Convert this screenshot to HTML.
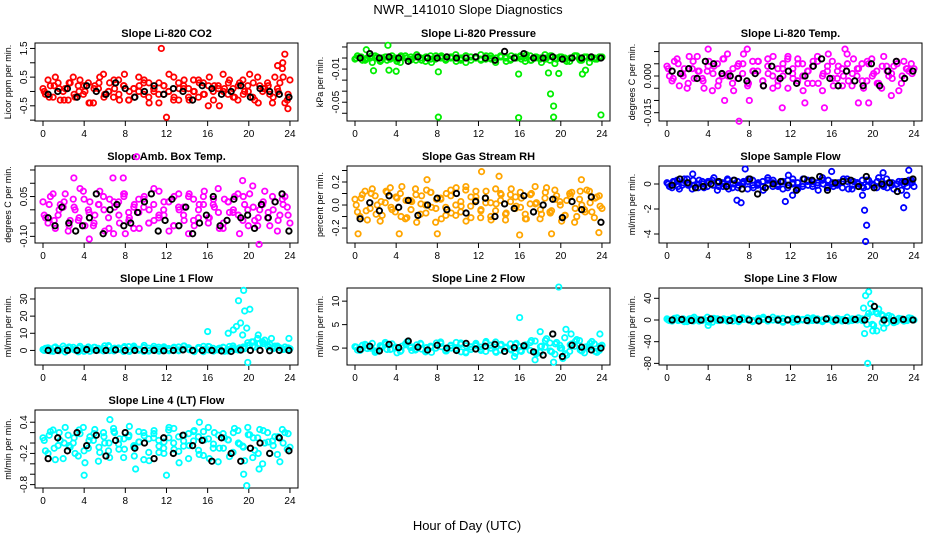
<!DOCTYPE html>
<html><head><meta charset="utf-8"><title>NWR_141010 Slope Diagnostics</title>
<style>
html,body{margin:0;padding:0;background:#fff;}
svg{display:block;font-family:"Liberation Sans",sans-serif;}
</style></head>
<body>
<svg id="chart" width="936" height="540" viewBox="0 0 936 540">
<rect width="936" height="540" fill="#fff"/>
<text x="468" y="14" font-size="13" text-anchor="middle">NWR_141010  Slope Diagnostics</text>
<text x="467" y="530" font-size="13" text-anchor="middle">Hour of Day (UTC)</text>
</svg>
<script>
const hourTicks = [0,4,8,12,16,20,24];

// Panel 1: Li-820 CO2
const co2A = [0.1,0.4,-0.2,0.3,0.0,-0.3,0.5,0.2,-0.1,0.3,-0.4,0.1,0.6,0.0,-0.2,0.4,0.2,-0.3,0.1,0.5,-0.1,0.3,0.0,-0.4,0.2,0.6,-0.2,0.1,0.4,-0.3,0.0,0.3,-0.1,0.5,0.2,-0.5,0.1,0.4,-0.2,0.3,0.0,0.6,-0.3,0.2,0.1,-0.1,0.5,0.3,-0.4,0.4];
const co2B = [-0.1,0.2,0.5,-0.3,0.1,0.3,-0.2,0.4,0.0,-0.4,0.2,0.5,-0.1,0.3,0.1,-0.3,0.6,0.0,-0.2,0.2,0.4,-0.4,0.1,0.3,-0.1,0.0,0.5,-0.3,0.2,0.1,0.4,-0.2,0.3,-0.5,0.0,0.2,0.6,-0.1,0.1,-0.3,0.4,0.2,-0.2,0.5,0.0,0.3,-0.4,0.1,0.8,-0.3];
const co2C = [0.0,-0.2,0.2,0.1,-0.3,0.3,-0.1,0.0,0.2,-0.4,0.1,0.3,-0.2,0.0,0.4,-0.1,0.2,-0.3,0.1,0.0,0.3,-0.2,0.1,-0.1,0.2,0.0,-0.3,0.3,0.1,-0.2,0.0,0.4,-0.1,0.2,-0.3,0.1,0.0,0.3,-0.2,0.2,-0.1,0.0,0.3,-0.4,0.1,0.2,-0.2,0.0,0.5,-0.1];
const co2Out = [[11.5,1.5],[23.5,1.3],[23.3,1.0],[12.0,-0.9],[22.8,0.9],[23.8,-0.6]];
const co2Black = [-0.1,0.0,0.1,-0.2,0.2,0.0,-0.1,0.3,0.1,-0.2,0.0,0.2,-0.1,0.1,0.0,-0.3,0.2,0.1,-0.1,0.0,0.2,-0.2,0.1,0.0,-0.1,-0.2];
const co2Ticks = [-1.0,-0.5,0.0,0.5,1.0,1.5];
const co2Labels = ["","-0.5","","0.5","","1.5"];

// Panel 2: Li-820 Pressure
const presA = [-0.001,0.001,-0.002,0.000,0.002,-0.003,0.001,-0.001,0.000,-0.004,0.002,-0.002,0.001,0.000,-0.003,0.002,-0.001,0.001,-0.002,0.000,0.003,-0.001,-0.004,0.001,0.000,-0.002,0.002,-0.001,0.000,0.001,-0.003,0.002,0.000,-0.001,0.003,-0.002,0.001,-0.004,0.000,0.002,-0.001,0.001,-0.003,0.000,0.002,-0.002,0.001,0.000,-0.001,0.001];
const presB = [0.002,-0.002,0.000,-0.004,0.001,0.000,-0.002,0.002,-0.003,0.001,0.000,-0.001,0.003,-0.002,0.001,-0.004,0.000,0.002,-0.001,0.001,-0.003,0.000,0.002,-0.002,0.001,0.003,-0.001,0.000,-0.004,0.002,0.001,-0.002,0.000,0.001,-0.003,0.002,0.000,-0.001,0.003,-0.002,-0.005,0.001,0.000,-0.003,0.002,-0.001,0.001,-0.004,0.000,0.001];
const presC = [0.000,0.001,-0.001,0.002,0.000,-0.002,0.001,0.000,-0.001,0.002,0.000,0.001,-0.002,0.000,0.001,-0.001,0.002,0.000,-0.001,0.001,0.000,-0.002,0.002,0.001,0.000,-0.001,0.000,0.002,-0.002,0.001,0.000,-0.001,0.001,0.002,0.000,-0.002,0.001,0.000,-0.001,0.002,0.000,0.001,-0.001,0.000,0.002,-0.002,0.001,0.000,-0.001,0.001];
const presOut = [[1.8,-0.0115],[3.3,-0.011],[4.0,-0.012],[8.1,-0.0125],[8.1,-0.0535],[15.9,-0.0145],[15.9,-0.054],[18.8,-0.0135],[19.0,-0.0325],[19.3,-0.0435],[19.3,-0.0535],[19.8,-0.014],[22.1,-0.0145],[22.4,-0.011],[23.9,-0.0515],[3.2,0.0115],[1.1,0.0075]];
const presBlack = [0.000,0.004,0.000,0.001,0.000,-0.003,0.001,0.000,0.000,0.001,0.000,0.000,0.001,0.000,-0.002,0.006,0.000,0.004,0.000,0.000,0.001,-0.001,0.000,0.000,0.001,0.000];
const presTicks = [0.01,0.0,-0.01,-0.02,-0.03,-0.04,-0.05];
const presLabels = ["","","-0.01","","","-0.05",""];

// Panel 3: Li-820 Temp
const ltA = [0.004,-0.002,0.007,0.001,-0.005,0.003,0.008,-0.001,0.002,-0.006,0.005,0.000,0.009,-0.003,0.004,0.001,-0.004,0.006,0.002,-0.002,0.007,-0.005,0.003,0.000,0.008,-0.001,0.005,-0.006,0.002,0.006,-0.003,0.001,0.009,-0.004,0.004,0.000,-0.002,0.007,0.003,-0.005,0.005,0.001,-0.003,0.008,0.000,0.004,-0.006,0.006,0.002,0.003];
const ltB = [0.000,0.006,-0.004,0.003,0.008,-0.001,0.002,-0.005,0.006,0.004,-0.002,0.007,0.001,-0.006,0.005,0.009,-0.003,0.002,0.006,-0.004,0.001,0.008,-0.002,0.005,-0.005,0.003,0.007,0.000,-0.003,0.004,0.008,-0.006,0.002,0.006,-0.001,0.003,0.009,-0.004,0.000,0.005,-0.002,0.007,0.002,-0.005,0.004,0.001,0.006,-0.003,0.003,0.005];
const ltC = [0.003,-0.001,0.005,0.000,-0.003,0.006,0.002,-0.002,0.004,0.001,-0.004,0.007,0.000,0.003,-0.001,0.005,-0.003,0.002,0.006,-0.002,0.004,0.000,-0.004,0.003,0.007,0.001,-0.002,0.005,0.002,-0.003,0.006,0.000,0.004,-0.001,0.002,-0.004,0.005,0.001,0.003,-0.002,0.006,0.000,-0.003,0.004,0.002,-0.001,0.005,0.000,0.003,0.001];
const ltOut = [[4.0,0.011],[7.0,-0.0185],[7.8,0.011],[5.6,-0.010],[8.0,-0.010],[11.2,-0.013],[13.4,-0.011],[15.3,-0.013],[17.3,0.011],[19.6,-0.011],[18.6,-0.011],[21.8,-0.008]];
const ltBlack = [0.002,0.001,0.003,-0.001,0.006,0.005,0.001,0.000,-0.001,-0.002,0.001,-0.004,0.004,-0.001,0.002,-0.003,0.000,0.004,0.007,-0.001,-0.004,0.002,-0.002,-0.004,0.005,-0.004,0.002,0.006,-0.001,0.002];
const ltTicks = [0.010,0.005,0.000,-0.005,-0.010,-0.015];
const ltLabels = ["","","0.000","","","-0.015"];

// Panel 4: Amb Box Temp
const abA = [0.03,-0.05,0.06,-0.02,0.01,-0.08,0.04,-0.04,0.07,0.00,-0.06,0.02,0.05,-0.03,-0.09,0.03,0.06,-0.01,-0.07,0.04,0.01,-0.05,0.08,-0.02,0.03,-0.08,0.05,0.00,-0.04,0.06,-0.06,0.02,0.07,-0.03,0.01,-0.07,0.04,-0.01,0.05,-0.09,0.02,0.06,-0.04,0.00,0.07,-0.06,0.03,-0.02,0.05,-0.05];
const abB = [-0.03,0.05,-0.07,0.02,0.06,-0.04,0.00,0.08,-0.06,0.03,-0.02,0.07,-0.08,0.04,0.01,-0.05,0.06,-0.03,0.02,-0.07,0.05,0.00,-0.04,0.07,-0.02,0.03,-0.06,0.06,0.01,-0.09,0.04,-0.03,0.05,-0.05,0.02,0.08,-0.07,0.03,-0.01,0.06,-0.04,0.00,0.09,-0.06,0.02,-0.03,0.05,-0.08,0.04,0.01];
const abC = [-0.02,0.02,-0.04,0.00,0.03,-0.06,0.01,-0.03,0.04,-0.01,-0.05,0.02,0.00,-0.07,0.03,-0.02,0.05,-0.04,0.01,-0.01,0.04,-0.05,0.02,-0.03,0.00,0.03,-0.06,0.01,-0.02,0.05,-0.04,0.00,0.02,-0.03,0.04,-0.01,-0.05,0.03,0.00,-0.02,0.05,-0.06,0.01,-0.03,0.03,-0.01,0.00,-0.04,0.02,-0.02];
const abOut = [[9.1,0.2],[21.0,-0.13],[3.0,0.12],[6.8,0.12],[19.4,0.11],[7.8,0.12],[4.5,-0.11],[8.0,-0.09]];
const abBlack = [-0.03,-0.06,0.01,-0.05,-0.08,-0.06,-0.03,0.06,-0.09,0.00,0.02,-0.06,-0.05,-0.01,0.03,0.06,-0.08,-0.04,0.04,-0.06,0.01,-0.09,-0.05,-0.02,0.05,-0.06,-0.04,0.04,-0.03,-0.02,-0.07,0.02,-0.03,0.03,0.06,-0.08];
const abTicks = [0.15,0.10,0.05,0.00,-0.05,-0.10];
const abLabels = ["","","0.05","","","-0.10"];

// Panel 5: Gas Stream RH
const rhA = [0.05,-0.10,0.12,-0.03,0.08,-0.14,0.02,0.15,-0.06,0.10,-0.12,0.04,0.14,-0.08,0.00,0.11,-0.15,0.06,-0.02,0.13,-0.09,0.03,0.16,-0.11,0.07,-0.04,0.12,-0.13,0.01,0.09,-0.07,0.14,-0.01,0.06,-0.12,0.10,0.02,-0.08,0.15,-0.05,0.08,-0.14,0.04,0.11,-0.10,0.00,0.13,-0.06,0.07,-0.03];
const rhB = [-0.06,0.09,-0.13,0.14,0.00,-0.09,0.11,-0.04,0.06,0.16,-0.11,0.03,-0.15,0.08,0.13,-0.02,0.05,-0.12,0.10,-0.07,0.15,-0.01,-0.14,0.07,0.12,-0.05,0.02,-0.10,0.14,0.04,-0.13,0.09,-0.03,0.11,-0.08,0.01,0.16,-0.12,0.06,-0.06,0.13,0.03,-0.09,0.10,-0.15,0.05,-0.04,0.12,-0.11,0.08];
const rhC = [0.00,0.06,-0.05,0.10,-0.08,0.03,0.12,-0.02,0.07,-0.10,0.04,-0.04,0.09,0.01,-0.07,0.11,-0.03,0.05,-0.09,0.08,0.00,-0.06,0.13,-0.01,0.04,-0.11,0.06,0.02,-0.05,0.10,-0.08,0.03,0.07,-0.02,-0.12,0.09,0.01,-0.04,0.11,-0.07,0.05,0.00,-0.09,0.08,-0.03,0.12,-0.06,0.02,0.06,-0.01];
const rhOut = [[0.3,-0.25],[4.3,-0.25],[8.0,-0.25],[12.3,0.29],[16.0,-0.26],[19.1,-0.25],[22.0,0.22],[14.0,0.25],[7.0,0.22],[23.7,-0.24]];
const rhBlack = [-0.12,0.02,-0.05,0.08,-0.02,0.04,-0.09,0.00,0.06,-0.04,0.10,-0.07,0.03,0.06,-0.10,0.01,-0.03,0.08,-0.06,0.00,0.05,-0.11,0.03,-0.04,0.07,-0.15];
const rhTicks = [0.3,0.2,0.1,0.0,-0.1,-0.2];
const rhLabels = ["","0.2","","0.0","","-0.2"];

// Panel 6: Sample Flow
const sfA = [0.1,-0.3,0.3,-0.1,0.4,-0.4,0.0,0.2,-0.2,0.3,-0.5,0.1,0.4,-0.3,0.2,0.0,-0.4,0.3,-0.1,0.2,0.5,-0.2,0.0,-0.4,0.3,0.1,-0.3,0.4,-0.1,0.2,-0.5,0.0,0.3,-0.2,0.1,0.4,-0.4,0.2,0.0,-0.3,0.3,-0.1,0.5,-0.2,0.1,-0.4,0.2,0.0,0.3,-0.2];
const sfB = [-0.2,0.2,-0.4,0.4,0.0,-0.1,0.3,-0.3,0.1,0.5,-0.2,0.0,-0.4,0.3,-0.1,0.2,0.4,-0.3,0.1,-0.5,0.0,0.3,-0.2,0.2,-0.1,0.4,-0.4,0.0,0.3,-0.2,0.1,0.5,-0.3,0.0,-0.1,0.2,0.4,-0.4,0.1,-0.2,0.3,0.0,-0.3,0.2,0.4,-0.1,0.0,-0.5,0.1,0.3];
const sfC = [0.0,0.2,-0.2,0.1,-0.1,0.3,-0.3,0.0,0.2,-0.1,0.1,-0.2,0.3,0.0,-0.3,0.1,0.2,-0.1,0.0,-0.2,0.3,0.1,-0.1,0.2,-0.3,0.0,0.1,-0.2,0.2,0.0,-0.1,0.3,-0.2,0.1,0.0,-0.3,0.2,-0.1,0.1,0.3,-0.2,0.0,0.2,-0.1,-0.3,0.1,0.0,0.2,-0.2,0.1];
const sfOut = [[2.5,0.8],[6.8,-1.3],[7.2,-1.5],[7.6,1.2],[11.5,-1.4],[11.8,0.7],[16.0,1.0],[19.2,-2.1],[19.4,-3.3],[19.3,-4.6],[23.0,-1.9],[23.5,1.1],[21.0,0.9],[23.3,-0.9],[12.2,-0.9],[19.0,-0.9]];
const sfBlack = [-0.1,0.4,0.1,-0.3,-0.2,0.0,0.2,-0.2,0.3,-0.4,0.4,-0.8,-0.3,0.0,0.2,-0.1,-0.5,0.4,0.3,0.6,-0.5,0.1,0.2,0.3,-0.2,0.6,-0.3,0.0,0.1,-0.6,0.2,0.4];
const sfTicks = [0,-2,-4];
const sfLabels = ["0","-2","-4"];

// Panel 7: Line 1 Flow
const l1A = [0.5,1.5,-0.5,1.0,2.5,0.0,1.8,-0.8,0.8,2.0,0.2,1.2,-0.3,2.8,0.6,1.4,-0.6,2.2,0.9,0.1,1.7,-0.4,2.4,0.7,1.1,-0.2,1.9,0.3,2.6,0.4,-0.7,1.6,0.8,2.1,0.0,1.3,-0.5,2.3,0.5,1.5,1.0,3.0,2.0,4.0,6.0,3.5,2.5,1.5,2.0,1.0];
const l1B = [1.2,-0.3,2.0,0.6,-0.9,1.6,0.2,2.4,1.0,-0.5,1.8,0.4,2.7,-0.1,1.3,0.8,2.2,-0.6,1.5,0.5,2.9,0.0,1.1,-0.4,2.1,0.7,1.4,-0.2,2.5,0.9,0.1,1.7,-0.7,2.3,1.2,0.3,1.9,-0.3,2.6,0.6,1.5,4.5,2.5,7.0,5.0,3.0,1.5,2.5,1.0,0.5];
const l1C = [0.0,0.8,1.6,-0.2,1.0,2.0,0.4,1.4,-0.5,0.9,1.8,0.2,1.2,2.2,-0.3,0.6,1.5,0.1,2.5,0.7,-0.6,1.3,0.3,1.9,0.5,1.1,-0.1,2.0,0.8,1.6,0.0,1.2,2.4,0.3,-0.4,1.0,1.7,0.5,1.4,0.2,2.0,3.0,5.0,9.0,4.0,2.0,1.0,2.0,0.5,1.5];
const l1Out = [[16.0,11],[18.0,10],[18.5,12],[18.8,14],[19.0,29],[19.2,16],[19.5,35],[19.6,23],[19.8,13],[20.1,24],[19.4,9],[19.9,-7],[20.3,5],[22.2,7],[23.9,7]];
const l1Black = [0,0,0,0,0.5,0,0,0.3,0,0,0,0,-0.2,0,0.3,0,0,0,-0.3,-0.6,0.2,0,0,-0.2,0,0];
const l1Ticks = [0,10,20,30];
const l1Labels = ["0","10","20","30"];

// Panel 8: Line 2 Flow
const l2A = [0.3,-0.5,0.8,0.0,-0.9,0.5,1.2,-0.3,0.2,-0.7,0.9,0.1,-0.4,1.0,-0.8,0.4,0.0,1.3,-0.6,0.6,-0.2,1.1,-1.0,0.3,0.7,-0.5,1.4,0.0,-0.9,0.8,0.2,-0.4,1.0,-0.7,0.5,1.6,-1.2,0.4,2.0,-0.8,1.2,0.0,-1.5,0.9,1.8,-0.6,0.3,1.4,-0.9,0.6];
const l2B = [-0.4,0.6,-0.1,1.0,-0.7,0.2,-0.3,0.9,-1.0,0.4,1.3,-0.5,0.7,-0.2,0.1,-0.9,1.1,0.3,-0.6,0.0,1.2,-0.8,0.5,-0.3,1.0,0.2,-0.7,0.6,1.3,-0.4,0.0,0.9,-1.1,0.3,0.7,-0.5,1.5,-0.9,0.2,1.1,-1.3,0.6,2.2,-0.7,0.4,1.6,-1.0,0.2,0.9,-0.5];
const l2C = [0.2,-0.3,0.6,0.0,-0.6,0.4,0.9,-0.2,0.1,-0.5,0.7,0.3,-0.2,0.8,-0.6,0.2,0.0,1.0,-0.4,0.5,-0.1,0.8,-0.8,0.2,0.5,-0.3,1.1,0.0,-0.7,0.6,0.1,-0.2,0.8,-0.5,0.3,1.2,-0.9,0.3,1.6,-0.6,0.9,0.0,-1.2,0.7,1.4,-0.4,0.2,1.0,-0.7,0.4];
const l2Out = [[19.8,13],[16.0,6.5],[19.3,-3],[17.5,-2.5],[20.5,4],[21.0,3],[23.8,3],[18.0,3.5],[20.2,-2.2],[15.5,-1.8]];
const l2Black = [-0.3,0.4,-0.6,0.8,0.1,1.5,0.2,-0.4,0.6,0.0,-0.5,1.0,-0.2,0.4,0.8,-0.7,0.1,0.5,-0.8,-1.5,3.0,-1.8,0.6,0.2,-0.4,0.0];
const l2Ticks = [0,5,10];
const l2Labels = ["0","5","10"];

// Panel 9: Line 3 Flow
const l3A = [2,-2,4,0,-3,3,1,-1,5,-4,2,0,-2,3,-1,4,1,-3,0,2,-2,5,-1,3,0,-4,2,1,-2,4,0,-1,3,-3,2,1,-2,0,4,-1,12,-10,20,-15,8,-5,3,-2,4,0];
const l3B = [-1,3,0,-3,2,5,-2,1,-4,3,0,2,-1,4,-3,1,0,-2,3,5,-1,0,2,-4,1,3,-2,0,4,-1,2,-3,1,0,3,-2,5,-1,0,2,-8,15,-20,10,-6,6,-3,2,0,3];
const l3C = [0,1,-1,2,0,-2,1,0,-1,2,-1,0,1,-2,0,1,2,-1,0,1,-1,0,2,-2,1,0,-1,1,0,2,-1,0,1,-2,0,1,-1,2,0,-1,6,-8,12,-5,4,-2,1,0,-1,1];
const l3Out = [[19.3,45],[19.5,-80],[19.6,52],[19.8,30],[19.2,-25],[20.0,-20],[20.3,15],[19.1,22],[4.0,-10],[21.0,8]];
const l3Black = [0,1,-1,0,2,0,-1,1,0,-2,1,0,0,1,-1,0,2,0,-1,1,0,25,0,-1,1,0];
const l3Ticks = [40,0,-40,-80];
const l3Labels = ["40","0","-40","-80"];

// Panel 10: Line 4 (LT) Flow
const l4A = [0.1,-0.2,0.25,-0.05,-0.3,0.15,0.0,-0.25,0.3,-0.1,0.05,-0.35,0.2,-0.15,0.28,-0.02,-0.28,0.12,-0.08,0.22,-0.32,0.08,0.18,-0.18,0.02,0.3,-0.12,-0.38,0.15,-0.05,0.24,-0.22,0.06,-0.3,0.2,-0.1,0.1,-0.26,0.28,-0.02,-0.34,0.16,-0.14,0.26,0.0,-0.2,0.12,-0.36,0.2,-0.08];
const l4B = [-0.15,0.22,-0.32,0.05,0.3,-0.08,-0.2,0.18,-0.38,0.12,0.26,-0.18,0.0,-0.28,0.2,0.08,-0.12,0.32,-0.25,0.02,0.14,-0.34,0.24,-0.06,-0.2,0.1,0.28,-0.16,0.04,-0.3,0.22,0.12,-0.24,0.3,-0.1,-0.36,0.18,0.06,-0.18,0.24,-0.06,0.3,-0.28,0.1,-0.4,0.2,0.04,-0.22,0.26,-0.12];
const l4C = [0.05,0.15,-0.1,0.2,0.0,-0.05,0.1,0.25,-0.15,0.05,0.18,-0.08,0.12,0.0,0.22,-0.12,0.08,0.15,-0.05,0.02,0.2,-0.18,0.1,0.05,-0.1,0.25,0.0,0.12,-0.06,0.18,0.04,-0.14,0.22,0.08,-0.02,0.15,-0.1,0.06,0.2,0.0,-0.08,0.16,0.1,-0.2,0.24,0.02,-0.05,0.12,0.0,0.18];
const l4Out = [[19.8,-0.82],[4.0,-0.62],[12.0,-0.62],[6.5,0.45],[15.2,0.4],[19.5,-0.6],[21.0,-0.5],[9.0,-0.5]];
const l4Black = [-0.3,0.1,-0.15,0.2,-0.05,0.15,-0.25,0.05,0.2,-0.1,0.0,-0.3,0.1,-0.2,0.15,-0.05,0.05,-0.35,0.1,-0.2,-0.35,-0.1,0.0,-0.2,0.1,-0.15];
const l4Ticks = [0.4,0.2,0.0,-0.2,-0.4,-0.6,-0.8];
const l4Labels = ["0.4","","","-0.2","","","-0.8"];

const NS = "http://www.w3.org/2000/svg";
const svg = document.getElementById("chart");
function mk(tag, attrs, parent) {
  const e = document.createElementNS(NS, tag);
  for (const k in attrs) e.setAttribute(k, attrs[k]);
  (parent || svg).appendChild(e);
  return e;
}

function drawPanel(p, key, title, ylab, color, ticks, labels, a, b, c, out, blk) {
  const col = p[0], row = p[1], vTop = p[2], vBot = p[3];
  const off = col * 312;
  const rows = [[43,121],[166,243],[288,365],[410,488]];
  const top = rows[row][0], bot = rows[row][1];
  const left = 35 + off, right = 298 + off;
  const xs = h => 43 + off + h * 10.29;
  const ys = v => top + (vTop - v) / (vTop - vBot) * (bot - top);
  const g = mk("g", {});
  
  
  const t = mk("text", {x: (left + right) / 2, y: top - 6, "font-size": 11, "font-weight": "bold", "text-anchor": "middle"}, g);
  t.textContent = title;
  
  
  const yl = mk("text", {x: 0, y: 0, "font-size": 9, "text-anchor": "middle", transform: "translate(" + (left - 24) + "," + ((top + bot) / 2) + ") rotate(-90)"}, g);
  yl.textContent = ylab;
  
  
  const box = mk("rect", {x: left, y: top, width: right - left, height: bot - top, fill: "none", stroke: "#000", "stroke-width": 1}, g);
  
  
  hourTicks.forEach(h => {
    mk("line", {x1: xs(h), x2: xs(h), y1: bot, y2: bot + 5, stroke: "#000"}, g);
    const tl = mk("text", {x: xs(h), y: bot + 16, "font-size": 10, "text-anchor": "middle"}, g);
    tl.textContent = h;
    
    
  });
  ticks.forEach((v, i) => {
    mk("line", {x1: left, x2: left - 5, y1: ys(v), y2: ys(v), stroke: "#000"}, g);
    if (labels[i]) {
      const tl = mk("text", {x: 0, y: 0, "font-size": 10, "text-anchor": "middle", transform: "translate(" + (left - 8) + "," + ys(v) + ") rotate(-90)"}, g);
      tl.textContent = labels[i];
      
      
    }
  });
  const pts = mk("g", {fill: "none", stroke: color, "stroke-width": 1.8}, g);
  
  
  const dot = (h, v, parent) => {
    const el = mk("circle", {cx: xs(h), cy: ys(v), r: 2.7}, parent);
    
    
  };
  a.forEach((v, i) => dot(i * 24 / (a.length - 1), v, pts));
  b.forEach((v, i) => dot(0.24 + i * 23.5 / (b.length - 1), v, pts));
  c.forEach((v, i) => dot(0.12 + i * 23.7 / (c.length - 1), v, pts));
  out.forEach(o => dot(o[0], o[1], pts));
  const bp = mk("g", {fill: "none", stroke: "#000", "stroke-width": 1.9}, g);
  
  
  blk.forEach((v, i) => dot(0.5 + i * 23.4 / (blk.length - 1), v, bp));
}

drawPanel([0,0,1.69,-1.03], "co2", "Slope Li-820 CO2", "Licor ppm per min.", "#ff0000", co2Ticks, co2Labels, co2A, co2B, co2C, co2Out, co2Black);
drawPanel([1,0,0.0136,-0.057], "pressure", "Slope Li-820 Pressure", "kPa per min.", "#00ee00", presTicks, presLabels, presA, presB, presC, presOut, presBlack);
drawPanel([2,0,0.0135,-0.0184], "licor-temp", "Slope Li-820 Temp.", "degrees C per min.", "#ff00ff", ltTicks, ltLabels, ltA, ltB, ltC, ltOut, ltBlack);
drawPanel([0,1,0.165,-0.125], "amb-box-temp", "Slope Amb. Box Temp.", "degrees C per min.", "#ff00ff", abTicks, abLabels, abA, abB, abC, abOut, abBlack);
drawPanel([1,1,0.339,-0.33], "gas-rh", "Slope Gas Stream RH", "percent per min.", "#ffa500", rhTicks, rhLabels, rhA, rhB, rhC, rhOut, rhBlack);
drawPanel([2,1,1.44,-4.72], "sample-flow", "Slope Sample Flow", "ml/min per min.", "#0000ff", sfTicks, sfLabels, sfA, sfB, sfC, sfOut, sfBlack);
drawPanel([0,2,36.4,-8.5], "line1-flow", "Slope Line 1 Flow", "ml/min per min.", "#00ffff", l1Ticks, l1Labels, l1A, l1B, l1C, l1Out, l1Black);
drawPanel([1,2,12.8,-3.6], "line2-flow", "Slope Line 2 Flow", "ml/min per min.", "#00ffff", l2Ticks, l2Labels, l2A, l2B, l2C, l2Out, l2Black);
drawPanel([2,2,59,-83], "line3-flow", "Slope Line 3 Flow", "ml/min per min.", "#00ffff", l3Ticks, l3Labels, l3A, l3B, l3C, l3Out, l3Black);
drawPanel([0,3,0.635,-0.865], "line4-flow", "Slope Line 4 (LT) Flow", "ml/min per min.", "#00ffff", l4Ticks, l4Labels, l4A, l4B, l4C, l4Out, l4Black);
</script>
</body></html>
